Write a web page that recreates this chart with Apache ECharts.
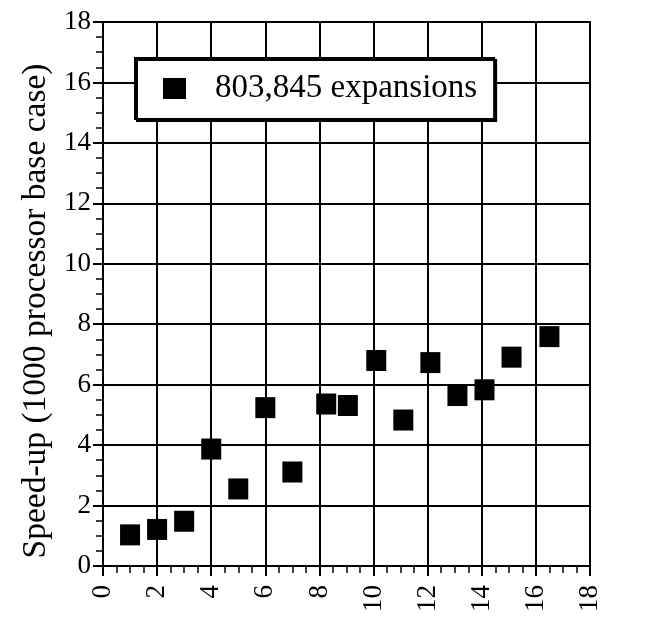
<!DOCTYPE html>
<html>
<head>
<meta charset="utf-8">
<script src="https://cdn.jsdelivr.net/npm/echarts@6/dist/echarts.min.js"></script>
<style>html,body{margin:0;padding:0;background:#fff}#c{width:665px;height:633px}</style>
</head>
<body>
<div id="c"></div>
<script>
var seriesName = '803,845 expansions';
var xValues = [1.0, 2.0, 3.0, 4.0, 5.0, 6.0, 7.0, 8.25, 9.05, 10.1, 11.1, 12.1, 13.1, 14.1, 15.1, 16.5];
var yValues = [1.03, 1.21, 1.48, 3.87, 2.55, 5.24, 3.11, 5.36, 5.31, 6.80, 4.83, 6.73, 5.64, 5.83, 6.91, 7.59];
var yTitle = 'Speed-up (1000 processor base case)';

var points = xValues.map(function (x, i) { return [x, yValues[i]]; });
var font = "'Liberation Serif', 'Times New Roman', serif";
var chart = echarts.init(document.getElementById('c'));
chart.setOption({
  backgroundColor: '#fff',
  animation: false,
  grid: { left: 103, right: 75, top: 22, bottom: 67, show: true, borderColor: '#000', borderWidth: 2 },
  legend: {
    left: 135, top: 58,
    padding: [14, 17, 14, 28],
    backgroundColor: '#fff',
    borderColor: '#000', borderWidth: 2,
    shadowColor: '#000', shadowOffsetX: 2, shadowOffsetY: 2, shadowBlur: 0,
    itemWidth: 23, itemHeight: 21,
    icon: 'rect',
    textStyle: { fontFamily: font, fontSize: 33, color: '#000', padding: [0, 0, 0, 24] },
    data: [seriesName]
  },
  xAxis: {
    type: 'value', min: 0, max: 18, interval: 2,
    axisLine: { lineStyle: { color: '#000', width: 2 } },
    axisTick: { show: true, length: 10, lineStyle: { color: '#000', width: 2 } },
    minorTick: { show: true, splitNumber: 4, length: 7, lineStyle: { color: '#000', width: 1.5 } },
    splitLine: { show: true, lineStyle: { color: '#000', width: 2 } },
    axisLabel: { rotate: 90, margin: 19, fontFamily: font, fontSize: 27, color: '#000' }
  },
  yAxis: {
    type: 'value', min: 0, max: 18, interval: 2,
    name: yTitle, nameLocation: 'middle', nameGap: 50,
    nameTextStyle: { fontFamily: font, fontSize: 33.5, color: '#000', padding: [0, 34, 0, 0] },
    axisLine: { lineStyle: { color: '#000', width: 2 } },
    axisTick: { show: true, length: 10, lineStyle: { color: '#000', width: 2 } },
    minorTick: { show: true, splitNumber: 4, length: 7, lineStyle: { color: '#000', width: 1.5 } },
    splitLine: { show: true, lineStyle: { color: '#000', width: 2 } },
    axisLabel: { margin: 12, fontFamily: font, fontSize: 27, color: '#000' }
  },
  series: [{
    name: seriesName,
    type: 'scatter',
    symbol: 'rect',
    symbolSize: [20, 21],
    itemStyle: { color: '#000', opacity: 1 },
    data: points
  }]
});
</script>
</body>
</html>
